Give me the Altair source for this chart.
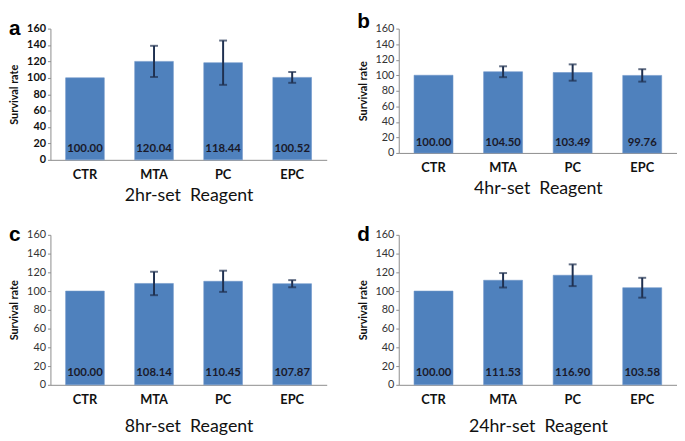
import altair as alt
import pandas as pd

categories = ["CTR", "MTA", "PC", "EPC"]

a_values = [100.00, 120.04, 118.44, 100.52]
a_errors = [0, 19.0, 27.0, 6.6]
b_values = [100.00, 104.50, 103.49, 99.76]
b_errors = [0, 7.0, 10.5, 8.0]
c_values = [100.00, 108.14, 110.45, 107.87]
c_errors = [0, 12.5, 11.3, 3.8]
d_values = [100.00, 111.53, 116.90, 103.58]
d_errors = [0, 7.7, 11.6, 10.6]

letters = ["a", "b", "c", "d"]
x_titles = ["2hr-set\u00a0 Reagent", "4hr-set\u00a0 Reagent", "8hr-set\u00a0 Reagent", "24hr-set\u00a0 Reagent"]
y_ticks = [0, 20, 40, 60, 80, 100, 120, 140, 160]

FONT = "Lato"
BAR = "#4F81BD"
ERR = "#1F3050"
AXIS = "#8C8C8C"


def panel(letter, values, errors, xtitle, width, height, bold_ticks,
          label_pad, title_pad, letter_y):
    df = pd.DataFrame({
        "cat": categories,
        "val": values,
        "err": errors,
        "lo": [v - e for v, e in zip(values, errors)],
        "hi": [v + e for v, e in zip(values, errors)],
        "label": [f"{v:.2f}" for v in values],
        "labpos": [13] * len(values),
    })
    x = alt.X(
        "cat:N",
        sort=categories,
        scale=alt.Scale(paddingInner=0.44, paddingOuter=0.22),
        axis=alt.Axis(
            title=xtitle,
            titleFont=FONT,
            titleFontSize=18,
            titleFontWeight="normal",
            titleColor="#111111",
            titlePadding=title_pad,
            labelFont=FONT,
            labelFontSize=13,
            labelFontWeight="bold",
            labelColor="#111111",
            labelPadding=label_pad,
            labelAngle=0,
            ticks=False,
            domainColor=AXIS,
            domainWidth=1,
        ),
    )
    yscale = alt.Scale(domain=[0, 160], nice=False)
    yaxis = alt.Axis(
        title="Survival rate",
        titleFont=FONT,
        titleFontSize=11,
        titleFontWeight="bold",
        titleColor="#111111",
        titlePadding=7,
        values=y_ticks,
        labelOverlap=False,
        labelFont=FONT,
        labelFontSize=11,
        labelFontWeight="bold" if bold_ticks else "normal",
        labelColor="#111111" if bold_ticks else "#333333",
        labelPadding=2,
        tickColor=AXIS,
        tickSize=3,
        domainColor=AXIS,
        grid=False,
    )

    def Y(field):
        return alt.Y(field, type="quantitative", scale=yscale, axis=yaxis)

    base = alt.Chart(df)
    bars = base.mark_bar(color=BAR, stroke="#6E95C8", strokeWidth=0.6).encode(
        x=x, y=Y("val")
    )
    errdf = base.transform_filter("datum.err > 0")
    rules = errdf.mark_rule(color=ERR, strokeWidth=2).encode(
        x=x, y=Y("lo"), y2="hi:Q"
    )
    cap_lo = errdf.mark_tick(color=ERR, size=8, thickness=2, orient="horizontal").encode(
        x=x, y=Y("lo")
    )
    cap_hi = errdf.mark_tick(color=ERR, size=8, thickness=2, orient="horizontal").encode(
        x=x, y=Y("hi")
    )
    labels = base.mark_text(
        font=FONT, fontSize=11.5, fontWeight="bold", color="#1A1A2A", baseline="middle"
    ).encode(x=x, y=Y("labpos"), text="label:N")
    tag = alt.Chart(pd.DataFrame({"t": [letter]})).mark_text(
        font="Liberation Sans", fontSize=21, fontWeight="bold", color="#000000",
        align="left", baseline="alphabetic",
    ).encode(x=alt.value(-42), y=alt.value(letter_y), text="t:N")
    return alt.layer(bars, rules, cap_lo, cap_hi, labels, tag).properties(
        width=width, height=height
    )


pa = panel("a", a_values, a_errors, x_titles[0], 280, 133, True, 9, 5, 6)
pb = panel("b", b_values, b_errors, x_titles[1], 282, 126, False, 9, 5, -1)
pc = panel("c", c_values, c_errors, x_titles[2], 280, 152, False, 9, 11, 6)
pd_ = panel("d", d_values, d_errors, x_titles[3], 282, 152, False, 9, 11, 6)

chart = alt.vconcat(
    alt.hconcat(pa, pb, spacing=30),
    alt.hconcat(pc, pd_, spacing=30),
    spacing=20,
).properties(padding=0).configure_view(stroke=None)

chart.save("out.html", embed_options={"renderer": "svg", "actions": False})
